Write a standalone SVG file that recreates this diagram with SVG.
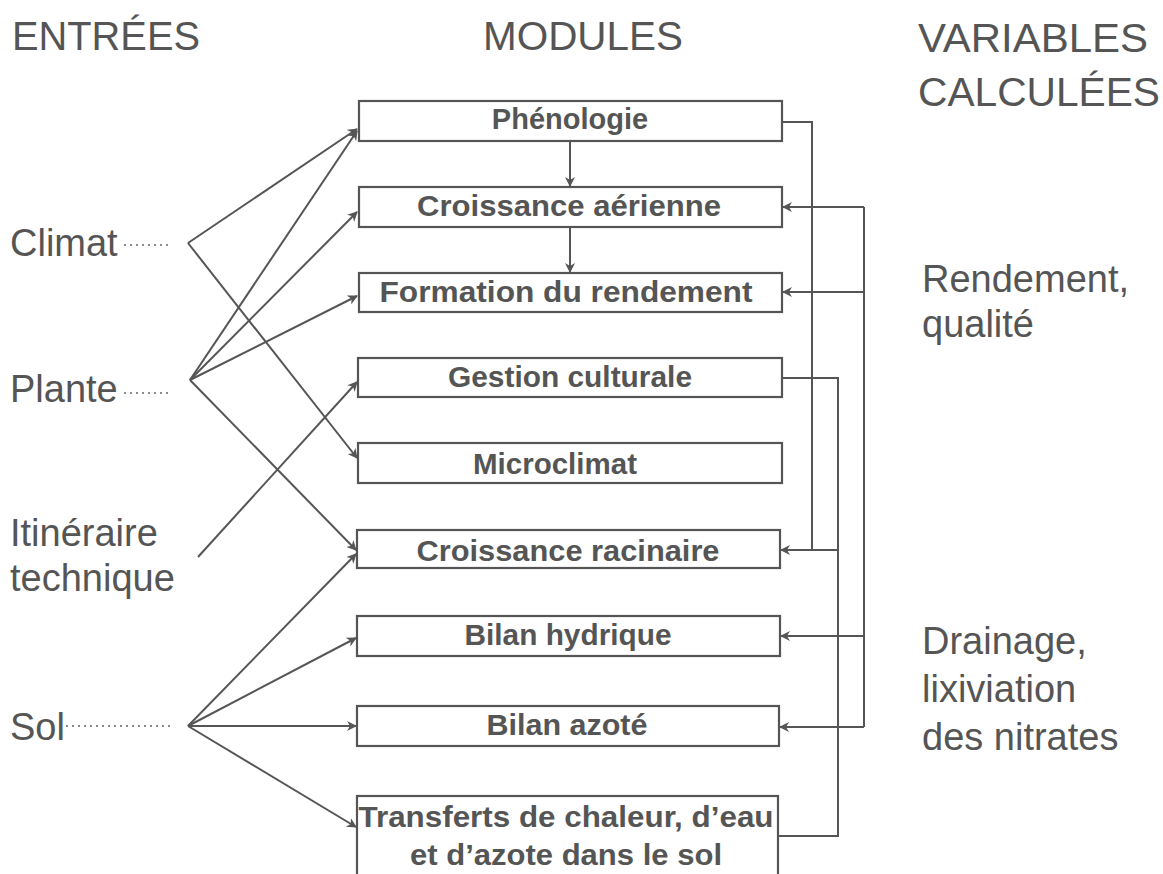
<svg xmlns="http://www.w3.org/2000/svg" width="1163" height="874" viewBox="0 0 1163 874">
  <style>
    .head { font-family: "Liberation Sans", Arial, sans-serif; font-size: 40px; fill: #555; }
    .lbl { font-family: "Liberation Sans", Arial, sans-serif; font-size: 38px; fill: #555; }
    .box { fill: #fff; stroke: #555; stroke-width: 2.2; }
    .mod { font-family: "Liberation Sans", Arial, sans-serif; font-size: 29px; font-weight: bold; fill: #555; text-anchor: middle; }
    .wire { fill: none; stroke: #555; stroke-width: 2; }
    .arr { fill: none; stroke: #555; stroke-width: 2; marker-end: url(#head); }
    .dots { fill: none; stroke: #666; stroke-width: 1.5; stroke-dasharray: 2 4; }
  </style>
  <defs>
    <marker id="head" viewBox="0 0 10 10" refX="9" refY="5" markerWidth="10" markerHeight="10" markerUnits="userSpaceOnUse" orient="auto">
      <path d="M0,0 L10,5 L0,10 L3,5 Z" fill="#555"/>
    </marker>
  </defs>
  <rect width="1163" height="874" fill="#fff"/>

  <!-- column headings -->
  <g id="headings">
    <text class="head" x="12" y="50" textLength="188" lengthAdjust="spacingAndGlyphs">ENTRÉES</text>
    <text class="head" x="483" y="50" textLength="200" lengthAdjust="spacingAndGlyphs">MODULES</text>
    <text class="head" x="918" y="52" textLength="230" lengthAdjust="spacingAndGlyphs">VARIABLES</text>
    <text class="head" x="918" y="106" textLength="242" lengthAdjust="spacingAndGlyphs">CALCULÉES</text>
  </g>

  <!-- inputs -->
  <g id="in-climat">
    <text class="lbl" x="10" y="256">Climat</text>
    <path class="dots" d="M124,245 H172"/>
  </g>
  <g id="in-plante">
    <text class="lbl" x="10" y="402">Plante</text>
    <path class="dots" d="M124,393 H172"/>
  </g>
  <g id="in-itineraire">
    <text class="lbl" x="10" y="546">Itinéraire</text>
    <text class="lbl" x="10" y="591">technique</text>
  </g>
  <g id="in-sol">
    <text class="lbl" x="10" y="740">Sol</text>
    <path class="dots" d="M66,726 H172"/>
  </g>

  <!-- modules -->
  <g id="m-phenologie">
    <rect class="box" x="359" y="101" width="423" height="40"/>
    <text class="mod" x="570" y="129">Phénologie</text>
  </g>
  <g id="m-croissance-aerienne">
    <rect class="box" x="359" y="187" width="423" height="40"/>
    <text class="mod" x="569" y="216" textLength="304" lengthAdjust="spacingAndGlyphs">Croissance aérienne</text>
  </g>
  <g id="m-formation">
    <rect class="box" x="359" y="273" width="423" height="39"/>
    <text class="mod" x="566" y="302" textLength="373" lengthAdjust="spacingAndGlyphs">Formation du rendement</text>
  </g>
  <g id="m-gestion">
    <rect class="box" x="358" y="358" width="424" height="39"/>
    <text class="mod" x="570" y="387" textLength="244" lengthAdjust="spacingAndGlyphs">Gestion culturale</text>
  </g>
  <g id="m-microclimat">
    <rect class="box" x="358" y="443" width="424" height="40"/>
    <text class="mod" x="555" y="474" textLength="164" lengthAdjust="spacingAndGlyphs">Microclimat</text>
  </g>
  <g id="m-croissance-racinaire">
    <rect class="box" x="357" y="530" width="423" height="38"/>
    <text class="mod" x="568" y="561" textLength="303" lengthAdjust="spacingAndGlyphs">Croissance racinaire</text>
  </g>
  <g id="m-bilan-hydrique">
    <rect class="box" x="357" y="616" width="423" height="40"/>
    <text class="mod" x="568" y="645" textLength="207" lengthAdjust="spacingAndGlyphs">Bilan hydrique</text>
  </g>
  <g id="m-bilan-azote">
    <rect class="box" x="357" y="706" width="422" height="40"/>
    <text class="mod" x="567" y="735" textLength="161" lengthAdjust="spacingAndGlyphs">Bilan azoté</text>
  </g>
  <g id="m-transferts">
    <rect class="box" x="357" y="796" width="421" height="100"/>
    <text class="mod" x="566" y="827" textLength="415" lengthAdjust="spacingAndGlyphs">Transferts de chaleur, d’eau</text>
    <text class="mod" x="566" y="865" textLength="312" lengthAdjust="spacingAndGlyphs">et d’azote dans le sol</text>
  </g>

  <!-- computed outputs -->
  <g id="out-rendement">
    <text class="lbl" x="922" y="292">Rendement,</text>
    <text class="lbl" x="922" y="337">qualité</text>
  </g>
  <g id="out-drainage">
    <text class="lbl" x="922" y="654">Drainage,</text>
    <text class="lbl" x="922" y="702">lixiviation</text>
    <text class="lbl" x="922" y="750">des nitrates</text>
  </g>

  <!-- connectors -->
  <g id="connectors">
    <!-- Climat -->
    <path class="arr" d="M188,243 L357,129"/>
    <path class="arr" d="M188,243 L357,458"/>
    <!-- Plante -->
    <path class="arr" d="M190,380 L357,131"/>
    <path class="arr" d="M190,380 L357,212"/>
    <path class="arr" d="M190,380 L357,296"/>
    <path class="arr" d="M190,380 L356,550"/>
    <!-- Itinéraire technique -->
    <path class="arr" d="M198,557 L357,382"/>
    <!-- Sol -->
    <path class="arr" d="M188,726 L356,554"/>
    <path class="arr" d="M188,726 L356,638"/>
    <path class="arr" d="M188,726 L356,726"/>
    <path class="arr" d="M188,726 L356,827"/>
    <!-- module chain -->
    <path class="arr" d="M570,141 V186"/>
    <path class="arr" d="M570,227 V272"/>
    <!-- feedback from Phénologie -->
    <path class="wire" d="M782,122 H812 V550"/>
    <!-- Gestion culturale / Transferts loop -->
    <path class="wire" d="M782,378 H838 V836 H778"/>
    <path class="arr" d="M838,550 H781"/>
    <!-- outer loop -->
    <path class="wire" d="M864,207 V727"/>
    <path class="arr" d="M864,207 H783"/>
    <path class="arr" d="M864,292 H783"/>
    <path class="arr" d="M864,636 H781"/>
    <path class="arr" d="M864,727 H780"/>
  </g>
</svg>
